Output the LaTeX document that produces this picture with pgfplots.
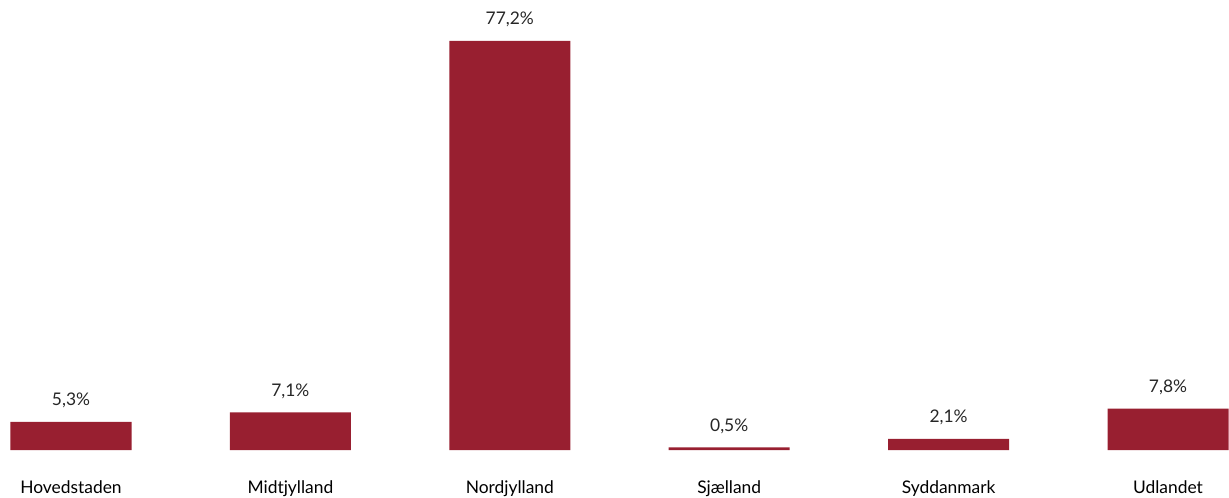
\documentclass[border=0pt]{standalone}
\usepackage{pgfplots}
\pgfplotsset{compat=1.18}
\usepackage{fontspec}
\setmainfont{Lato}
\definecolor{barred}{RGB}{152,31,48}
\begin{document}
\begin{tikzpicture}
\begin{axis}[
  at={(0,0)}, anchor=south west,
  scale only axis,
  width=614.5pt, height=225pt,
  xmin=-0.3236, xmax=5.278,
  ymin=0, ymax=84.94,
  axis line style={draw=none},
  tick style={draw=none},
  ytick=\empty,
  xtick={0,1,2,3,4,5},
  xticklabels={Hovedstaden,Midtjylland,Nordjylland,Sjælland,Syddanmark,Udlandet},
  xticklabel style={font=\fontsize{8.7pt}{10pt}\selectfont, anchor=base, yshift=-17.5pt},
  clip=false,
  ybar, bar width=60.5pt,
  point meta=explicit symbolic,
  nodes near coords,
  every node near coord/.append style={font=\fontsize{8.7pt}{10pt}\selectfont, anchor=base, yshift=8pt, text=black!85},
]
\addplot[fill=barred, draw=none] coordinates {
  (0,5.3) [5,3\%]
  (1,7.1) [7,1\%]
  (2,77.2) [77,2\%]
  (3,0.5) [0,5\%]
  (4,2.1) [2,1\%]
  (5,7.8) [7,8\%]
};
\end{axis}
\pgfresetboundingbox
\path[use as bounding box] (0,-23.5pt) rectangle (614.5pt,225pt);
\end{tikzpicture}
\end{document}
